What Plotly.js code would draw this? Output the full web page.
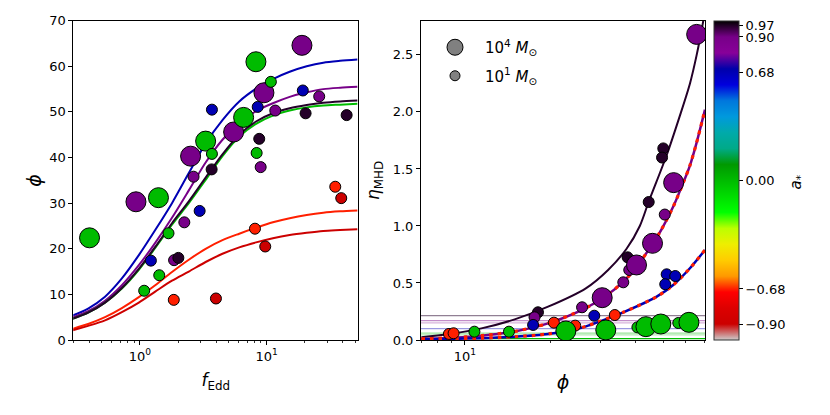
<!DOCTYPE html>
<html>
<head>
<meta charset="utf-8">
<script src="https://cdn.plot.ly/plotly-3.0.1.min.js"></script>
<style>
  html, body { margin: 0; padding: 0; background: #fff; }
  #chart { width: 830px; height: 415px; }
</style>
</head>
<body>
<div id="chart"></div>
<script>
// ---- left panel: phi vs f_Edd ----
const leftBigF    = [0.40, 0.93, 1.40, 2.51, 3.30, 5.49, 6.58, 8.23, 9.52, 19.0];
const leftBigPhi  = [22.4, 30.3, 31.2, 40.3, 43.6, 45.6, 48.8, 61.0, 54.2, 64.6];
const leftBigSpin = [0, 0.9, 0, 0.9, 0, 0.9, 0, 0, 0.9, 0.9];

const leftSmallF    = [1.08, 1.22, 1.42, 1.68, 1.85, 1.86, 2.01, 2.24, 2.65, 2.96, 3.68, 3.70, 3.70, 3.98,
                       8.09, 8.34, 8.50, 8.74, 8.97, 9.75, 10.8, 11.7, 19.3, 20.3, 26.0, 34.8, 38.8, 42.8];
const leftSmallPhi  = [10.8, 17.4, 14.2, 23.4, 8.8, 17.5, 18.0, 25.8, 35.8, 28.3, 37.4, 40.8, 50.5, 9.1,
                       24.4, 41.0, 51.1, 44.1, 37.9, 20.5, 56.6, 50.3, 54.7, 49.7, 53.4, 33.6, 31.1, 49.3];
const leftSmallSpin = [0, 0.68, 0, 0, -0.68, 0.9, 0.97, 0.9, 0.9, 0.68, 0.97, 0, 0.68, -0.9,
                       -0.68, 0, 0.68, 0.97, 0.9, -0.9, 0, 0.9, 0.68, 0.97, 0.9, -0.68, -0.9, 0.97];

// fitted phi(f_Edd) curves, one per spin
const fitSpins = [0.68, 0.9, 0, 0.97, -0.68, -0.9];
const fitF = [0.29, 0.39, 0.53, 0.72, 0.98, 1.32, 1.79, 2.43, 3.30, 4.48, 6.08, 8.25, 11.2, 15.2, 20.7, 28, 38, 52];
const fitPhi = {
  "0.68":  [5.3, 6.9, 9.5, 13.5, 18.6, 24.1, 30.0, 36.6, 43.1, 48.2, 52.3, 55.1, 57.2, 58.8, 60.0, 60.8, 61.2, 61.5],
  "0.9":   [4.9, 6.3, 8.6, 12.0, 16.4, 21.3, 26.8, 32.8, 38.9, 43.9, 47.6, 50.2, 51.9, 53.3, 54.3, 55.0, 55.3, 55.5],
  "0":     [4.6, 6.0, 8.2, 11.3, 15.4, 20.2, 25.3, 30.0, 35.1, 40.3, 44.6, 47.4, 49.2, 50.3, 51.0, 51.4, 51.6, 51.8],
  "0.97":  [4.6, 6.0, 8.2, 11.4, 15.6, 20.4, 25.6, 30.4, 35.6, 40.7, 45.0, 47.9, 49.7, 50.8, 51.5, 52.0, 52.3, 52.5],
  "-0.68": [2.4, 3.5, 5.0, 7.0, 9.4, 12.0, 14.9, 17.6, 20.0, 21.9, 23.3, 24.6, 25.8, 26.7, 27.4, 27.9, 28.2, 28.4],
  "-0.9":  [2.1, 3.1, 4.3, 6.1, 8.2, 10.6, 13.0, 15.0, 17.1, 18.9, 20.3, 21.4, 22.3, 23.0, 23.5, 23.9, 24.1, 24.3]
};

// ---- right panel: eta_MHD vs phi ----
const rightSmallPhi  = [50.1, 49.6, 44.5, 50.7, 37.5, 38.0, 36.2, 51.5, 50.9, 55.2, 25.9, 28.6, 33.8, 18.1,
                        17.6, 17.4, 20.6, 24.5, 14.3, 10.8, 8.78, 9.12, 40.6, 56.6];
const rightSmallEta  = [1.68, 1.60, 1.21, 1.10, 0.725, 0.614, 0.506, 0.576, 0.489, 0.561, 0.287, 0.213, 0.219, 0.243,
                        0.199, 0.132, 0.152, 0.126, 0.073, 0.073, 0.053, 0.059, 0.111, 0.149];
const rightSmallSpin = [0.97, 0.97, 0.97, 0.9, 0.97, 0.9, 0.9, 0.68, 0.68, 0.68, 0.9, 0.68, -0.68, 0.97,
                        0.9, 0.68, -0.68, -0.68, 0, 0, -0.68, -0.68, 0, 0];

const rightBigPhi  = [65.7, 54.5, 45.9, 40.3, 30.5, 22.7, 31.4, 43.5, 49.1, 61.7];
const rightBigEta  = [2.68, 1.38, 0.848, 0.658, 0.371, 0.079, 0.088, 0.117, 0.140, 0.155];
const rightBigSpin = [0.9, 0.9, 0.9, 0.9, 0.9, 0, 0, 0, 0, 0];

// eta(phi) curves
const etaPhi097 = [7.02, 8.71, 11.43, 14.98, 19.65, 26.7, 32.0, 37.18, 41.4, 44.46, 51.48, 57.38, 62.23, 65.72, 69.34, 70.3];
const eta097    = [0.024, 0.05, 0.102, 0.181, 0.292, 0.453, 0.614, 0.80, 1.0, 1.21, 1.62, 1.97, 2.25, 2.50, 2.80, 2.89];
const etaPhi090 = [7.02, 8.71, 11.43, 14.98, 19.65, 25.76, 27.6, 31.16, 36.2, 40.3, 46.1, 49.4, 54.33, 58.94, 62.2, 65.5, 70.3];
const eta090    = [0.01, 0.018, 0.038, 0.075, 0.146, 0.26, 0.30, 0.38, 0.51, 0.64, 0.85, 0.97, 1.17, 1.38, 1.53, 1.72, 2.02];
const etaPhi068 = [7.02, 8.71, 11.43, 14.98, 19.65, 25.76, 27.6, 36.2, 47.5, 54.3, 62.2, 70.3];
const eta068    = [0.006, 0.009, 0.016, 0.029, 0.053, 0.108, 0.132, 0.243, 0.38, 0.482, 0.629, 0.79];

// flat eta levels
const levelEta  = [0.213, 0.17, 0.15, 0.10, 0.061, 0.045, 0.012];
const levelSpin = [0.97, 0.9, 0.9, 0.68, 0, 0, 0];
const levelAlpha = [0.5, 0.45, 0.3, 0.4, 0.4, 0.3, 1];

// colorbar ticks
const cbTickVals = [0.97, 0.90, 0.68, 0, -0.68, -0.90];
const cbTickText = ["0.97", "0.90", "0.68", "0.00", "\u22120.68", "\u22120.90"];

// nipy_spectral, used reversed over a* in [-1, 1]
const nipyPos = [0, 0.05, 0.1, 0.15, 0.2, 0.25, 0.3, 0.35, 0.4, 0.45, 0.5, 0.55, 0.6, 0.65, 0.7, 0.75, 0.8, 0.85, 0.9, 0.95, 1];
const nipyR = [0, 0.4667, 0.5333, 0, 0, 0, 0, 0, 0, 0, 0, 0, 0, 0.7333, 0.9333, 1, 1, 1, 0.8667, 0.8, 0.8];
const nipyG = [0, 0, 0, 0, 0, 0.4667, 0.6, 0.6667, 0.6667, 0.6, 0.7333, 0.8667, 1, 1, 0.9333, 0.8, 0.6, 0, 0, 0, 0.8];
const nipyB = [0, 0.5333, 0.6, 0.6667, 0.8667, 0.8667, 0.8667, 0.6667, 0.5333, 0, 0, 0, 0, 0, 0, 0, 0, 0, 0, 0, 0.8];

function rgb(r, g, b) {
  return "rgb(" + Math.round(r * 255) + "," + Math.round(g * 255) + "," + Math.round(b * 255) + ")";
}

function spinColor(a, alpha) {
  const s = Math.min(1, Math.max(0, (1 - a) / 2));
  let i = 0;
  while (i < nipyPos.length - 2 && s > nipyPos[i + 1]) i++;
  const t = (s - nipyPos[i]) / (nipyPos[i + 1] - nipyPos[i]);
  const mix = arr => arr[i] + t * (arr[i + 1] - arr[i]);
  const c = rgb(mix(nipyR), mix(nipyG), mix(nipyB));
  if (alpha === undefined) return c;
  return c.replace("rgb(", "rgba(").replace(")", "," + alpha + ")");
}

const colorscale = nipyPos.map((s, i) => [1 - s, rgb(nipyR[i], nipyG[i], nipyB[i])]).reverse();

const FONT = "DejaVu Sans, Liberation Sans, sans-serif";
const BIG = 20, SMALL = 11;

function pointTrace(x, y, spin, size, xa, ya, withScale) {
  const t = {
    x: x, y: y, xaxis: xa, yaxis: ya,
    type: "scatter", mode: "markers", showlegend: false, hoverinfo: "skip",
    marker: {
      size: size, color: spin, colorscale: colorscale, cmin: -1, cmax: 1,
      line: {color: "#000", width: 1}, showscale: !!withScale
    }
  };
  if (withScale) {
    t.marker.colorbar = {
      x: 714 / 830, xanchor: "left", xpad: 0,
      y: 1 - 340 / 415, yanchor: "bottom", ypad: 0,
      len: 319.3 / 415, lenmode: "fraction",
      thickness: 25, thicknessmode: "pixels",
      outlinecolor: "#333", outlinewidth: 1,
      tickmode: "array", tickvals: cbTickVals, ticktext: cbTickText,
      ticks: "outside", ticklen: 4, tickwidth: 1, tickcolor: "#000",
      tickfont: {family: FONT, size: 13, color: "#000"}
    };
  }
  return t;
}

function curve(x, y, xa, ya, color, width, dash) {
  return {
    x: x, y: y, xaxis: xa, yaxis: ya, type: "scatter", mode: "lines",
    line: {color: color, width: width, dash: dash || "solid", shape: "spline", smoothing: 0.8},
    showlegend: false, hoverinfo: "skip"
  };
}

const traces = [];

// left: fitted curves
fitSpins.forEach(a => traces.push(curve(fitF, fitPhi[String(a)], "x", "y", spinColor(a), 2)));
traces.push(pointTrace(leftBigF, leftBigPhi, leftBigSpin, BIG, "x", "y", true));
traces.push(pointTrace(leftSmallF, leftSmallPhi, leftSmallSpin, SMALL, "x", "y", false));

// right: curves, the retrograde ones lying dotted on top
traces.push(curve(etaPhi097, eta097, "x2", "y2", spinColor(0.97), 2));
traces.push(curve(etaPhi090, eta090, "x2", "y2", spinColor(0.9), 2.5));
traces.push(curve(etaPhi090, eta090, "x2", "y2", spinColor(-0.68), 3.2, "3.5px,5px"));
traces.push(curve(etaPhi068, eta068, "x2", "y2", spinColor(0.68), 2.5));
traces.push(curve(etaPhi068, eta068, "x2", "y2", spinColor(-0.68), 3.2, "3.5px,5px"));

traces.push(pointTrace(rightSmallPhi, rightSmallEta, rightSmallSpin, SMALL, "x2", "y2", false));
traces.push(pointTrace(rightBigPhi, rightBigEta, rightBigSpin, BIG, "x2", "y2", false));

// legend entries (mass)
traces.push({x: [null], y: [null], xaxis: "x2", yaxis: "y2", type: "scatter", mode: "markers",
  name: "10<sup>4</sup> <i>M</i><sub>\u2299</sub>", legendgroup: "big",
  marker: {size: BIG, color: "#808080", line: {color: "#000", width: 1}}});
traces.push({x: [null], y: [null], xaxis: "x2", yaxis: "y2", type: "scatter", mode: "markers",
  name: "10<sup>1</sup> <i>M</i><sub>\u2299</sub>", legendgroup: "small",
  marker: {size: SMALL - 1, color: "#808080", line: {color: "#000", width: 1}}});

const shapes = levelEta.map((e, i) => ({
  type: "line", xref: "x2 domain", yref: "y2", x0: 0, x1: 1, y0: e, y1: e,
  line: {color: spinColor(levelSpin[i], levelAlpha[i]), width: 1.2}, layer: "below"
}));

const yDom = [1 - 340 / 415, 1 - 20.7 / 415];
const axisCommon = {
  showline: true, linecolor: "#000", linewidth: 1, mirror: true,
  showgrid: false, zeroline: false,
  ticks: "outside", ticklen: 4, tickwidth: 1, tickcolor: "#000",
  tickfont: {family: FONT, size: 13, color: "#000"}
};

const layout = {
  width: 830, height: 415,
  margin: {l: 0, r: 0, t: 0, b: 0},
  paper_bgcolor: "#fff", plot_bgcolor: "#fff",
  font: {family: FONT, size: 13, color: "#000"},
  xaxis: Object.assign({}, axisCommon, {
    type: "log", domain: [73.3 / 830, 358.3 / 830], anchor: "y",
    range: [-0.526, 1.7235],
    tickmode: "array", tickvals: [1, 10], ticktext: ["10<sup>0</sup>", "10<sup>1</sup>"],
    minor: {tickmode: "array", tickvals: [0.3, 0.4, 0.5, 0.6, 0.7, 0.8, 0.9, 2, 3, 4, 5, 6, 7, 8, 9, 20, 30, 40, 50],
            ticks: "outside", ticklen: 2, tickwidth: 0.8, tickcolor: "#000", showgrid: false},
    title: {text: "<i>f</i><sub>Edd</sub>", font: {family: FONT, size: 17}, standoff: 11}
  }),
  yaxis: Object.assign({}, axisCommon, {
    domain: yDom, anchor: "x", range: [0, 70],
    tickmode: "array", tickvals: [0, 10, 20, 30, 40, 50, 60, 70],
    title: {text: "<i>\u03d5</i>", font: {family: FONT, size: 19}, standoff: 2}
  }),
  xaxis2: Object.assign({}, axisCommon, {
    type: "log", domain: [421 / 830, 705 / 830], anchor: "y2",
    range: [0.845, 1.847],
    tickmode: "array", tickvals: [10], ticktext: ["10<sup>1</sup>"],
    minor: {tickmode: "array", tickvals: [7, 8, 9, 20, 30, 40, 50, 60, 70],
            ticks: "outside", ticklen: 2, tickwidth: 0.8, tickcolor: "#000", showgrid: false},
    title: {text: "<i>\u03d5</i>", font: {family: FONT, size: 19}, standoff: 13}
  }),
  yaxis2: Object.assign({}, axisCommon, {
    domain: yDom, anchor: "x2", range: [0, 2.8],
    tickmode: "array", tickvals: [0, 0.5, 1, 1.5, 2, 2.5], ticktext: ["0.0", "0.5", "1.0", "1.5", "2.0", "2.5"],
    title: {text: "<i>\u03b7</i><sub>MHD</sub>", font: {family: FONT, size: 17}, standoff: 8}
  }),
  showlegend: true,
  legend: {
    x: 425 / 830, xanchor: "left", y: 1 - 31 / 415, yanchor: "top",
    bgcolor: "rgba(0,0,0,0)", borderwidth: 0, itemwidth: 50,
    font: {family: FONT, size: 15, color: "#000"}, tracegroupgap: 6
  },
  shapes: shapes,
  annotations: [{
    xref: "paper", yref: "paper", x: 807 / 830, y: 1 - 183 / 415,
    text: "<i>a</i><sub>*</sub>", showarrow: false, textangle: -90,
    font: {family: FONT, size: 15, color: "#000"}
  }]
};

Plotly.newPlot("chart", traces, layout, {displayModeBar: false, staticPlot: true});
</script>
</body>
</html>
